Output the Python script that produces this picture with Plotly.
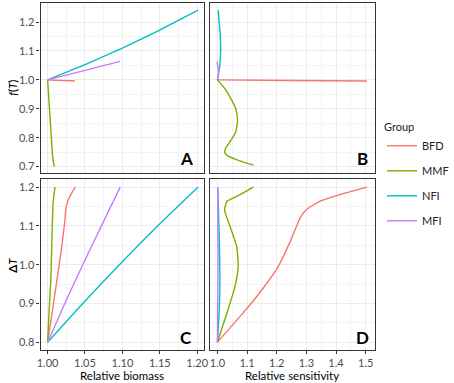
import plotly.graph_objects as go

W, H = 454, 383
groups = ["BFD", "MMF", "NFI", "MFI"]
colors = {"BFD": "#F8766D", "MMF": "#7CAE00", "NFI": "#00BFC4", "MFI": "#C77CFF"}

# Panel A: relative biomass vs f(T)
a_bfd_x = [1.0, 1.01, 1.02, 1.03, 1.0365]
a_bfd_y = [1.0, 0.999, 0.998, 0.997, 0.996]
a_mmf_x = [1.0, 1.0025, 1.005, 1.0062, 1.0075, 1.009]
a_mmf_y = [1.0, 0.9, 0.8, 0.75, 0.72, 0.70]
a_nfi_x = [1.0, 1.05, 1.1, 1.15, 1.2013]
a_nfi_y = [1.0, 1.0525, 1.11, 1.1725, 1.241]
a_mfi_x = [1.0, 1.05, 1.097]
a_mfi_y = [1.0, 1.033, 1.064]

# Panel B: relative sensitivity vs f(T)
b_bfd_x = [1.0, 1.25, 1.504]
b_bfd_y = [1.0, 0.998, 0.996]
b_mmf_x = [1.0, 1.025, 1.048, 1.062, 1.068, 1.062, 1.045, 1.027, 1.025, 1.035, 1.075, 1.122]
b_mmf_y = [1.0, 0.97, 0.93, 0.9, 0.86, 0.82, 0.79, 0.762, 0.748, 0.737, 0.72, 0.705]
b_nfi_x = [1.0, 1.008, 1.011, 1.01, 1.006, 1.003]
b_nfi_y = [1.0, 1.05, 1.1, 1.15, 1.2, 1.241]
b_mfi_x = [1.0, 1.004, 1.002, 0.999]
b_mfi_y = [1.0, 1.02, 1.04, 1.064]

# Panel C: relative biomass vs delta T
c_bfd_x = [1.0, 1.006, 1.0125, 1.019, 1.0232, 1.0245, 1.0275, 1.032, 1.037]
c_bfd_y = [0.8, 0.875, 0.961, 1.047, 1.116, 1.146, 1.167, 1.184, 1.2]
c_mmf_x = [1.0, 1.002, 1.0043, 1.0073, 1.0099]
c_mmf_y = [0.8, 0.88, 0.961, 1.159, 1.2]
c_nfi_x = [1.0, 1.047, 1.096, 1.147, 1.201]
c_nfi_y = [0.8, 0.9, 1.0, 1.1, 1.2]
c_mfi_x = [1.0, 1.023, 1.047, 1.072, 1.097]
c_mfi_y = [0.8, 0.9, 1.0, 1.1, 1.2]

# Panel D: relative sensitivity vs delta T
d_bfd_x = [1.0, 1.086, 1.14, 1.205, 1.248, 1.281, 1.302, 1.345, 1.41, 1.504]
d_bfd_y = [0.8, 0.875, 0.925, 0.995, 1.064, 1.124, 1.143, 1.163, 1.18, 1.2]
d_mmf_x = [1.0, 1.032, 1.059, 1.07, 1.065, 1.043, 1.024, 1.032, 1.075, 1.121]
d_mmf_y = [0.8, 0.875, 0.943, 0.995, 1.047, 1.098, 1.141, 1.163, 1.18, 1.2]
d_nfi_x = [1.0, 1.006, 1.0085, 1.006, 1.001]
d_nfi_y = [0.8, 0.88, 0.961, 1.08, 1.2]
d_mfi_x = [1.0, 1.002, 1.001]
d_mfi_y = [0.8, 1.0, 1.2]

panels = {
    "A": ("x", "y", {"BFD": (a_bfd_x, a_bfd_y), "MMF": (a_mmf_x, a_mmf_y),
                     "NFI": (a_nfi_x, a_nfi_y), "MFI": (a_mfi_x, a_mfi_y)}),
    "B": ("x2", "y2", {"BFD": (b_bfd_x, b_bfd_y), "MMF": (b_mmf_x, b_mmf_y),
                       "NFI": (b_nfi_x, b_nfi_y), "MFI": (b_mfi_x, b_mfi_y)}),
    "C": ("x3", "y3", {"BFD": (c_bfd_x, c_bfd_y), "MMF": (c_mmf_x, c_mmf_y),
                       "NFI": (c_nfi_x, c_nfi_y), "MFI": (c_mfi_x, c_mfi_y)}),
    "D": ("x4", "y4", {"BFD": (d_bfd_x, d_bfd_y), "MMF": (d_mmf_x, d_mmf_y),
                       "NFI": (d_nfi_x, d_nfi_y), "MFI": (d_mfi_x, d_mfi_y)}),
}

fig = go.Figure()
for pname, (xa, ya, data) in panels.items():
    for g in groups:
        xs, ys = data[g]
        fig.add_trace(go.Scatter(
            x=xs, y=ys, mode="lines", xaxis=xa, yaxis=ya, name=g,
            legendgroup=g, showlegend=(pname == "A"),
            line=dict(color=colors[g], width=1.4, shape="spline", smoothing=0.5),
        ))

def px_x(p):
    return p / W

def px_y(p):
    return 1 - p / H

colA = [px_x(38), px_x(208)]
colB = [px_x(214), px_x(385)]
rowT = [px_y(173), px_y(3)]
rowB = [px_y(350), px_y(179)]

tickfont = dict(family="Lato, sans-serif", size=11, color="#4D4D4D")
common = dict(showline=True, mirror=True, linecolor="#333333", linewidth=1.2,
              gridcolor="#EBEBEB", gridwidth=1, zeroline=False,
              ticks="outside", ticklen=3, tickcolor="#333333", tickwidth=1,
              tickfont=tickfont,
              minor=dict(showgrid=True, gridcolor="#F4F4F4", gridwidth=0.6, ticks=""))

x_bio = dict(range=[0.9906, 1.2094], tickvals=[1.0, 1.05, 1.1, 1.15, 1.2],
             ticktext=["1.00", "1.05", "1.10", "1.15", "1.20"],
             minor_tickvals=[0.9875, 1.025, 1.075, 1.125, 1.175])
x_sen = dict(range=[0.975, 1.53], tickvals=[1.0, 1.1, 1.2, 1.3, 1.4, 1.5],
             ticktext=["1.0", "1.1", "1.2", "1.3", "1.4", "1.5"],
             minor_tickvals=[1.05, 1.15, 1.25, 1.35, 1.45])
y_f = dict(range=[0.678, 1.266], tickvals=[0.7, 0.8, 0.9, 1.0, 1.1, 1.2],
           ticktext=["0.7", "0.8", "0.9", "1.0", "1.1", "1.2"],
           minor_tickvals=[0.75, 0.85, 0.95, 1.05, 1.15, 1.25])
y_dt = dict(range=[0.780, 1.221], tickvals=[0.8, 0.9, 1.0, 1.1, 1.2],
            ticktext=["0.8", "0.9", "1.0", "1.1", "1.2"],
            minor_tickvals=[0.85, 0.95, 1.05, 1.15])

def ax(base, domain, anchor, show):
    d = dict(common)
    d.update(domain=domain, anchor=anchor, tickvals=base["tickvals"],
             ticktext=base["ticktext"], range=base["range"])
    d["minor"] = dict(common["minor"], tickvals=base["minor_tickvals"])
    if not show:
        d.update(showticklabels=False, ticks="")
    return d

fig.update_layout(
    width=W, height=H, margin=dict(l=0, r=0, t=0, b=0),
    paper_bgcolor="white", plot_bgcolor="white",
    font=dict(family="Lato, sans-serif", size=11, color="#222222"),
    xaxis=ax(x_bio, colA, "y", False),
    yaxis=ax(y_f, rowT, "x", True),
    xaxis2=ax(x_sen, colB, "y2", False),
    yaxis2=ax(y_f, rowT, "x2", False),
    xaxis3=ax(x_bio, colA, "y3", True),
    yaxis3=ax(y_dt, rowB, "x3", True),
    xaxis4=ax(x_sen, colB, "y4", True),
    yaxis4=ax(y_dt, rowB, "x4", False),
    legend=dict(x=px_x(393), y=px_y(117), xanchor="left", yanchor="top",
                title=dict(text="Group", font=dict(size=11, color="#222222")),
                font=dict(size=11, color="#222222"), tracegroupgap=6,
                bgcolor="rgba(0,0,0,0)"),
    showlegend=True,
)

annots = [
    dict(text="<b>A</b>", x=px_x(190), y=px_y(158)),
    dict(text="<b>B</b>", x=px_x(372), y=px_y(158)),
    dict(text="<b>C</b>", x=px_x(189), y=px_y(337)),
    dict(text="<b>D</b>", x=px_x(372), y=px_y(337)),
]
for a in annots:
    fig.add_annotation(xref="paper", yref="paper", showarrow=False,
                       xanchor="center", yanchor="middle",
                       font=dict(family="Lato, sans-serif", size=17, color="black"), **a)

fig.add_annotation(text="Relative biomass", x=px_x(123), y=px_y(375), xref="paper", yref="paper",
                   showarrow=False, xanchor="center", yanchor="middle",
                   font=dict(family="Lato, sans-serif", size=11.5, color="black"))
fig.add_annotation(text="Relative sensitivity", x=px_x(299), y=px_y(375), xref="paper", yref="paper",
                   showarrow=False, xanchor="center", yanchor="middle",
                   font=dict(family="Lato, sans-serif", size=11.5, color="black"))
fig.add_annotation(text="<i>f</i>(<i>T</i>)", x=px_x(8), y=px_y(88), xref="paper", yref="paper",
                   showarrow=False, xanchor="center", yanchor="middle", textangle=-90,
                   font=dict(family="Lato, sans-serif", size=11.5, color="black"))
fig.add_annotation(text="<b>Δ</b><i>T</i>", x=px_x(8), y=px_y(265), xref="paper", yref="paper",
                   showarrow=False, xanchor="center", yanchor="middle", textangle=-90,
                   font=dict(family="Lato, sans-serif", size=11.5, color="black"))

fig.write_html("out.html", config={"displayModeBar": False},
               post_script="document.body.style.margin='0';document.body.style.padding='0';")
